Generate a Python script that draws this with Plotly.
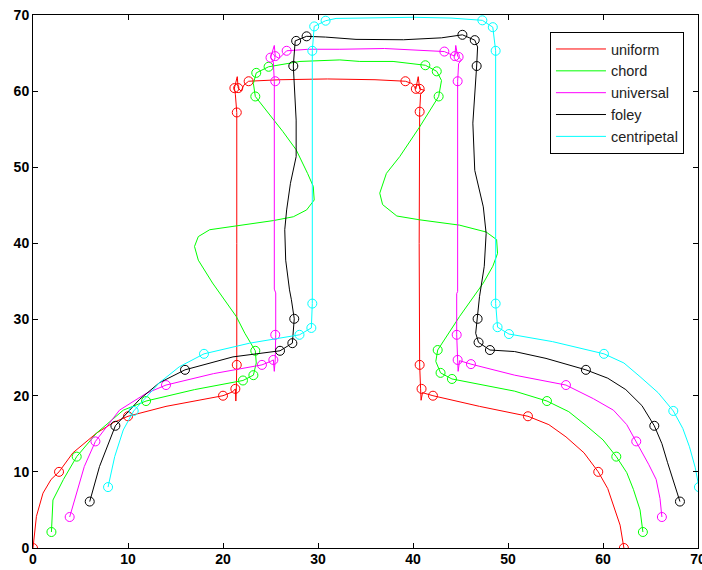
import plotly.graph_objects as go

# ---------------- data ----------------
series_names = ["uniform", "chord", "universal", "foley", "centripetal"]
series_colors = ["#ff0000", "#00ff00", "#ff00ff", "#000000", "#00ffff"]

# control points (circles)
uniform_pts_x = [0, 2.74, 10.0, 20.0, 21.3, 21.45, 21.45, 21.2, 21.6, 22.7, 39.2, 40.3, 40.7, 40.7, 40.7, 40.9, 42.1, 52.1, 59.5, 62.2]
uniform_pts_y = [0, 10, 17.3, 20, 20.9, 24.05, 57.2, 60.4, 60.4, 61.3, 61.3, 60.3, 60.3, 57.3, 24.05, 20.9, 20.0, 17.3, 10, 0]
chord_pts_x = [1.94, 4.6, 11.9, 22.1, 23.2, 23.4, 23.4, 23.5, 24.8, 41.3, 42.5, 42.7, 42.6, 42.9, 44.1, 54.1, 61.4, 64.2]
chord_pts_y = [2.1, 12, 19.3, 22.0, 22.7, 25.9, 59.3, 62.4, 63.2, 63.4, 62.6, 59.3, 26.0, 23.0, 22.2, 19.3, 12, 2.1]
universal_pts_x = [3.86, 6.57, 14.0, 24.1, 25.3, 25.5, 25.5, 25.0, 25.5, 26.7, 43.3, 44.4, 44.8, 44.7, 44.6, 44.7, 46.1, 56.1, 63.5, 66.2]
universal_pts_y = [4.07, 14, 21.4, 24.05, 24.7, 28.0, 61.3, 64.4, 64.6, 65.3, 65.2, 64.6, 64.5, 61.3, 28.0, 24.7, 24.15, 21.4, 14.0, 4.07]
foley_pts_x = [5.97, 8.67, 16.0, 26.0, 27.3, 27.5, 27.4, 27.7, 28.8, 45.2, 46.5, 46.7, 46.8, 46.9, 48.1, 58.2, 65.4, 68.1]
foley_pts_y = [6.1, 16.05, 23.4, 25.9, 26.9, 30.1, 63.3, 66.6, 67.2, 67.4, 66.7, 63.3, 30.1, 27.0, 26.0, 23.4, 16.05, 6.1]
centripetal_pts_x = [7.9, 10.6, 18.0, 28.05, 29.3, 29.4, 29.4, 29.6, 30.8, 47.3, 48.4, 48.7, 48.7, 48.9, 50.1, 60.1, 67.4, 70.1]
centripetal_pts_y = [8.0, 18.0, 25.5, 28.0, 28.9, 32.1, 65.3, 68.5, 69.25, 69.3, 68.4, 65.3, 32.1, 29.0, 28.1, 25.5, 18.0, 8.0]

# traced curves
uniform_x = [0, 0.15, 0.36, 1.05, 1.9, 2.74, 4.2, 6.7, 8.5, 10.0, 14.0, 20.0, 21.0, 21.3, 21.35, 21.4, 21.45, 21.45, 21.45,
             21.3, 21.2, 21.5, 21.6, 21.9, 22.2, 22.7, 26, 31, 36, 39.2, 39.9, 40.3, 40.55, 40.7, 41.2, 40.8, 40.7,
             40.65, 40.7, 40.8, 40.85, 41.0, 42.1, 47.0, 52.1, 54.3, 56.1, 58.0, 59.5, 60.5, 61.1, 61.8, 62.2]
uniform_y = [0, 2.0, 4.15, 7.2, 9.0, 10, 12.5, 15.1, 16.5, 17.3, 18.6, 20.0, 20.5, 20.9, 19.3, 20.6, 24.05, 40, 57.2,
             59.6, 60.4, 61.9, 60.4, 60.0, 60.8, 61.3, 61.5, 61.6, 61.5, 61.3, 61.0, 60.3, 61.9, 60.3, 60.1, 59.6, 57.3,
             40, 24.05, 20.9, 19.4, 20.4, 20.0, 18.6, 17.3, 16.2, 14.6, 12.5, 10, 7.8, 5.5, 3.0, 0]
chord_x = [1.94, 2.0, 2.1, 3.2, 4.6, 6.7, 9.5, 11.9, 17.0, 22.1, 23.2, 23.5, 23.4, 22.3, 21.4, 18.9, 17.4, 17.0, 17.4, 18.6,
           21.4, 25.3, 27.4, 28.8, 29.6, 29.5, 28.9, 27.7, 26.3, 24.8, 23.4, 23.2, 23.5, 24.8, 28.1, 32.3, 34.4, 37.9,
           41.3, 42.5, 43.0, 42.7, 40.7, 38.6, 37.2, 36.5, 36.8, 38.3, 40.7, 44.9, 47.7, 48.8, 48.9, 48.4, 47.4, 44.9,
           42.6, 42.4, 42.9, 44.1, 50.7, 54.1, 56.4, 58.3, 60.0, 61.4, 62.5, 63.2, 63.9, 64.2]
chord_y = [2.1, 4.0, 6.3, 9.0, 12, 15.1, 18.1, 19.3, 20.8, 22.0, 22.7, 24.3, 25.9, 28.2, 30.4, 34.8, 37.8, 39.6, 40.9, 41.8,
           42.3, 43.0, 43.5, 44.4, 45.7, 47.5, 49.2, 52.3, 54.7, 57.0, 59.3, 61.0, 62.4, 63.2, 63.9, 64.1, 63.9, 63.9,
           63.4, 62.6, 61.4, 59.3, 55.3, 51.4, 49.2, 46.6, 45.1, 43.6, 43.1, 42.4, 41.5, 40.5, 38.7, 37.0, 34.8, 30.4,
           26.0, 24.5, 23.0, 22.2, 20.6, 19.3, 17.9, 16.0, 14.2, 12, 9.9, 7.7, 5.0, 2.1]
universal_x = [3.86, 4.6, 5.4, 6.57, 8.0, 9.1, 11.9, 14.0, 19.0, 24.1, 25.0, 25.3, 25.4, 25.5, 25.55, 25.55, 25.4, 25.4,
               25.3, 25.0, 25.4, 25.5, 25.9, 26.7, 29.0, 32.3, 37.0, 43.3, 44.0, 44.4, 44.5, 44.7, 45.1, 44.8, 44.7,
               44.7, 44.6, 44.6, 44.7, 44.75, 44.9, 46.1, 50.7, 56.1, 59.0, 61.1, 62.5, 63.5, 64.8, 65.6, 66.0, 66.2]
universal_y = [4.07, 7.2, 10.7, 14.0, 16.3, 18.1, 20.3, 21.4, 22.9, 24.05, 24.5, 24.7, 23.2, 24.8, 28.0, 33.5, 34.0, 61.3,
               63.8, 64.4, 66.0, 64.6, 64.3, 65.3, 65.5, 65.5, 65.6, 65.2, 64.8, 64.6, 66.0, 64.6, 64.1, 63.6, 61.3,
               33.7, 33.4, 28.0, 24.7, 23.2, 24.6, 24.15, 22.7, 21.4, 19.6, 18.1, 16.2, 14.0, 11.0, 9.0, 6.5, 4.07]
foley_x = [5.97, 7.0, 8.67, 11.2, 13.3, 16.0, 21.05, 26.0, 27.3, 27.5, 27.2, 27.0, 26.6, 26.5, 26.7, 27.1, 27.7, 27.7,
           27.4, 27.6, 28.8, 30.8, 34.0, 39.0, 43.0, 45.2, 46.5, 46.8, 46.7, 46.3, 46.5, 47.4, 47.7, 47.5, 47.0, 46.8,
           46.6, 46.9, 48.1, 50.7, 54.0, 58.2, 60.5, 62.4, 64.1, 65.4, 66.2, 66.8, 67.5, 68.1]
foley_y = [6.1, 10.7, 16.05, 19.5, 21.7, 23.4, 25.1, 25.9, 26.9, 30.1, 32.6, 33.9, 37.8, 41.8, 44.4, 47.9, 51.4, 56.2,
           63.3, 66.6, 67.2, 67.1, 66.8, 66.75, 67.0, 67.4, 66.7, 65.8, 63.3, 55.8, 49.6, 44.8, 41.3, 37.0, 33.0, 30.1,
           28.2, 27.0, 26.0, 25.8, 24.9, 23.4, 22.3, 20.8, 18.7, 16.05, 13.7, 11.2, 8.6, 6.1]
centripetal_x = [7.9, 8.6, 9.5, 10.6, 13.3, 15.4, 18.0, 22.8, 28.05, 29.3, 29.4, 29.4, 29.6, 30.8, 31.9, 35.0, 40.0, 44.0,
                 47.3, 48.4, 48.7, 48.7, 48.9, 50.1, 54.7, 60.1, 62.2, 63.9, 65.8, 67.4, 68.4, 69.1, 69.7, 70.1]
centripetal_y = [8.0, 12.0, 15.5, 18.0, 21.7, 23.8, 25.5, 26.9, 28.0, 28.9, 32.1, 65.3, 68.5, 69.25, 69.55, 69.6, 69.7, 69.6,
                 69.3, 68.4, 65.3, 32.1, 29.0, 28.1, 27.1, 25.5, 24.3, 22.5, 20.4, 18.0, 15.7, 13.3, 10.6, 8.0]

tick_vals = [0, 10, 20, 30, 40, 50, 60, 70]

curves_x = [uniform_x, chord_x, universal_x, foley_x, centripetal_x]
curves_y = [uniform_y, chord_y, universal_y, foley_y, centripetal_y]
pts_x = [uniform_pts_x, chord_pts_x, universal_pts_x, foley_pts_x, centripetal_pts_x]
pts_y = [uniform_pts_y, chord_pts_y, universal_pts_y, foley_pts_y, centripetal_pts_y]

# ---------------- figure ----------------
fig = go.Figure()
for name, col, cx, cy, px, py in zip(series_names, series_colors, curves_x, curves_y, pts_x, pts_y):
    fig.add_trace(go.Scatter(x=cx, y=cy, mode="lines", name=name, legendgroup=name,
                             line=dict(color=col, width=1)))
    fig.add_trace(go.Scatter(x=px, y=py, mode="markers", name=name, legendgroup=name, showlegend=False,
                             marker=dict(symbol="circle-open", size=9, color=col, line=dict(width=1, color=col))))

def axis_style(standoff):
    return dict(range=[0, 70], tickvals=tick_vals, ticks="inside", ticklen=5, tickcolor="black",
                showline=True, linecolor="black", linewidth=1, mirror="allticks",
                showgrid=False, zeroline=False, automargin=False, ticklabelstandoff=standoff,
                ticklabeloverflow="allow",
                tickfont=dict(family="Liberation Sans", size=14, color="black", weight="bold"))

fig.update_layout(
    width=702, height=570,
    margin=dict(l=33, r=4, t=15, b=22),
    paper_bgcolor="white", plot_bgcolor="white",
    xaxis=axis_style(-2), yaxis=axis_style(0),
    legend=dict(x=0.7774, y=0.968, xanchor="left", yanchor="top",
                bordercolor="black", borderwidth=1, bgcolor="white",
                font=dict(family="Liberation Sans", size=14.5, color="#222222"),
                itemwidth=50, tracegroupgap=0),
)

fig.write_html("out.html", config={"displayModeBar": False},
               post_script="document.body.style.margin='0';document.body.style.overflow='hidden';")
